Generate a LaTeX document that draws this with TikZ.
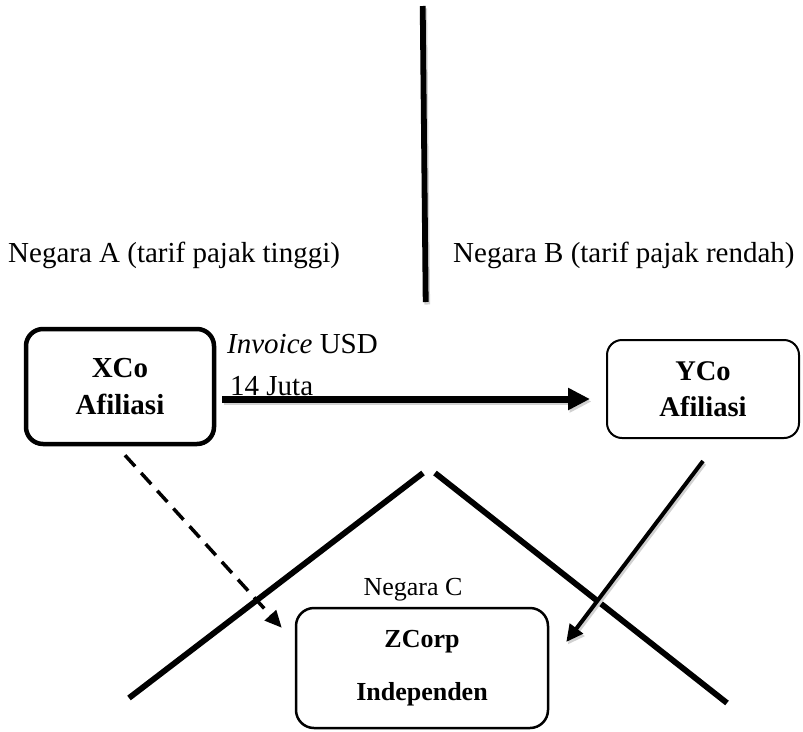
\documentclass[tikz,border=0pt]{standalone}
\usepackage{fontspec}
\setmainfont{Liberation Serif}
\usetikzlibrary{arrows.meta,calc}
\begin{document}
\begin{tikzpicture}[x=1pt,y=-1pt,
  lbl/.style={inner sep=0pt,font=\fontsize{29}{35}\selectfont},
  lblsm/.style={inner sep=0pt,font=\fontsize{26}{31}\selectfont},
  boxx/.style={draw,rounded corners=#1,inner sep=0pt,align=center},
  divider/.style={line width=5.8pt},
  shade/.style={draw=black!18,transform canvas={shift={(1.5pt,-2.5pt)}}},
]
\useasboundingbox (0,0) rectangle (803,731);
% dividing lines
\draw[divider,shade] (422.7,6) -- (425.7,302);
\draw[divider] (422.7,6) -- (425.7,302);
\draw[divider] (129,698) -- (423,473);
\draw[divider] (435,473) -- (727,703);
% labels
\node[lbl,anchor=base west] (na) at (8,262) {Negara A (tarif pajak tinggi)};
\node[lbl,anchor=base west] (nb) at (453,262) {Negara B (tarif pajak rendah)};
\node[lblsm,anchor=base] (nc) at (413,595) {Negara C};
% boxes
\node[boxx=17pt,line width=4.5pt,minimum width=188pt,minimum height=115pt,
      font=\fontsize{29}{37}\selectfont\bfseries] (xco) at (120,386.5) {XCo\\Afiliasi};
\node[boxx=15pt,line width=2pt,minimum width=192pt,minimum height=98pt,
      font=\fontsize{28.5}{36}\selectfont\bfseries] (yco) at (703,389) {YCo\\Afiliasi};
\node[boxx=18pt,line width=2.5pt,minimum width=252pt,minimum height=120pt,
      font=\fontsize{26}{53}\selectfont\bfseries] (zc) at (422,668) {ZCorp\\Independen};
% arrow label
\node[lbl,anchor=base west] (inv) at (227,353) {\textit{Invoice} USD};
\node[lbl,anchor=base west] (jt) at (230,395) {14 Juta};
% connectors
\draw[line width=7pt,shade,-{Triangle[length=22pt,width=21pt]}]
  ($(xco.east)+(6,12.5)$) -- ($(yco.west)+(-16,10)$);
\draw[line width=7pt,-{Triangle[length=22pt,width=21pt]}]
  ($(xco.east)+(6,12.5)$) -- ($(yco.west)+(-16,10)$);
\draw[line width=3.5pt,dash pattern=on 15pt off 9pt,-{Triangle[length=17pt,width=15pt]}]
  ($(xco.south)+(5,9)$) -- ($(zc.north west)+(-13,21)$);
\draw[line width=4pt,shade,-{Triangle[length=17pt,width=16pt]}]
  ($(yco.south)+(0,22)$) -- ($(zc.east)+(17,-26)$);
\draw[line width=4pt,-{Triangle[length=17pt,width=16pt]}]
  ($(yco.south)+(0,22)$) -- ($(zc.east)+(17,-26)$);
\end{tikzpicture}
\end{document}
